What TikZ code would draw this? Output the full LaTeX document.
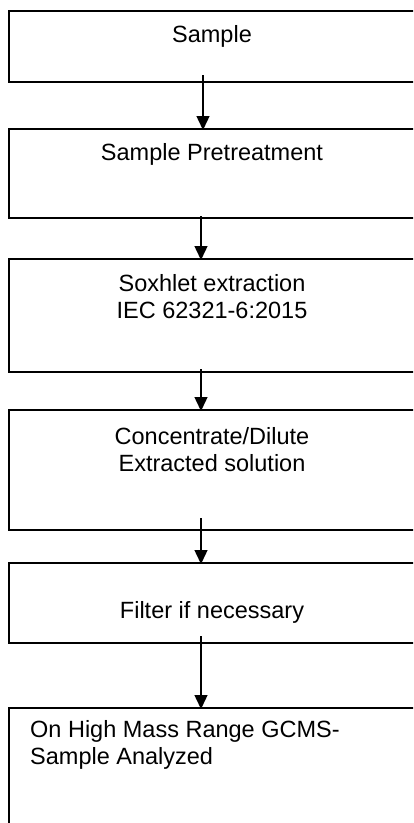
\documentclass[tikz,border=0pt]{standalone}
\usepackage{fontspec}
\setmainfont{Liberation Sans}
\usetikzlibrary{arrows.meta}
\begin{document}
\begin{tikzpicture}[x=1pt,y=-1pt,
  stepbox/.style={draw=black,line width=1.6pt,fill=none},
  lbl/.style={font=\fontsize{23.5}{27}\selectfont,inner sep=0pt,align=center},
  conn/.style={line width=1.4pt,-{Triangle[width=13pt,length=14pt]}}]
\useasboundingbox (0,0) rectangle (413,823);
\clip (0,0) rectangle (413,823);
\fill[white] (0,0) rectangle (413,823);
% boxes
\draw[stepbox] (9,11) rectangle (418,82);
\draw[stepbox] (9,129) rectangle (418,218);
\draw[stepbox] (9,259) rectangle (418,372);
\draw[stepbox] (9,410) rectangle (418,530);
\draw[stepbox] (9,563) rectangle (418,643);
\draw[stepbox] (9,708) rectangle (418,840);
% texts
\node[lbl] (t1) at (212,36) {Sample};
\node[lbl] (t2) at (212,154) {Sample Pretreatment};
\node[lbl] (t3) at (212,297) {Soxhlet extraction\\IEC 62321-6:2015};
\node[lbl] (t4) at (212,450) {Concentrate/Dilute\\Extracted solution};
\node[lbl] (t5) at (212,612) {Filter if necessary};
\node[lbl,align=left,anchor=west] (t6) at (30,745) {On High Mass Range GCMS-\\Sample Analyzed};
% connectors
\coordinate (a1s) at (203,75);  \coordinate (a1e) at (203,130);
\coordinate (a2s) at (201,216); \coordinate (a2e) at (201,260);
\coordinate (a3s) at (201,369); \coordinate (a3e) at (201,411);
\coordinate (a4s) at (201,518); \coordinate (a4e) at (201,564);
\coordinate (a5s) at (201,636); \coordinate (a5e) at (201,709);
\draw[conn] (a1s) -- (a1e);
\draw[conn] (a2s) -- (a2e);
\draw[conn] (a3s) -- (a3e);
\draw[conn] (a4s) -- (a4e);
\draw[conn] (a5s) -- (a5e);
\end{tikzpicture}
\end{document}
